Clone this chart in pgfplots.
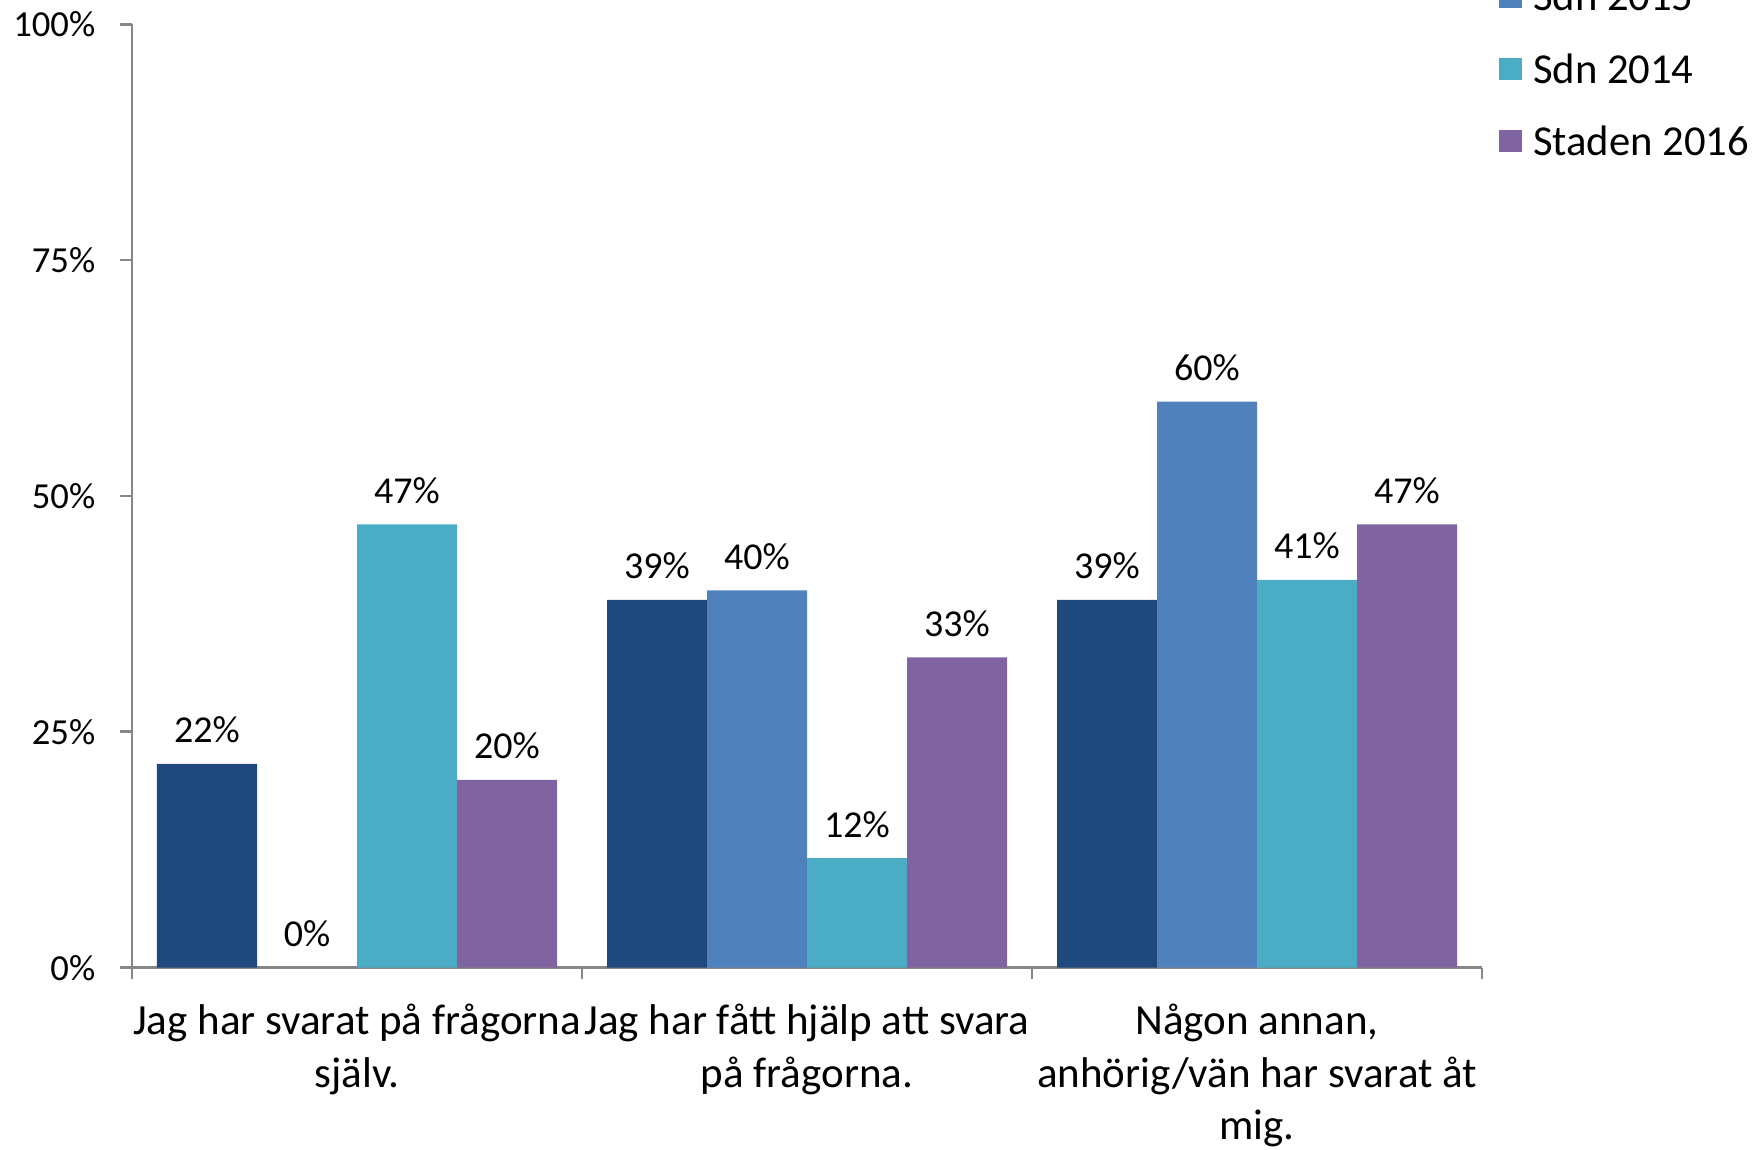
\documentclass[border=0pt]{standalone}
\usepackage{pgfplots}
\pgfplotsset{compat=1.18}
\usepackage{fontspec}
\setmainfont{Carlito}
\definecolor{cNavy}{HTML}{1F497D}
\definecolor{cBlue}{HTML}{4F81BD}
\definecolor{cTeal}{HTML}{4BACC6}
\definecolor{cPurple}{HTML}{8064A2}
\definecolor{axgray}{HTML}{868686}
\begin{document}
\begin{tikzpicture}
\begin{axis}[
  name=ax,
  scale only axis,
  width=405pt, height=283pt,
  xmin=-0.5, xmax=2.5, ymin=0, ymax=100,
  ybar=0pt, bar width=30pt,
  axis x line*=bottom, axis y line*=left,
  axis line style={axgray, line width=0.8pt},
  xtick={-0.5,0.5,1.5,2.5},
  x tick label as interval,
  xticklabels={{Jag har svarat på frågorna\\själv.},{Jag har fått hjälp att svara\\på frågorna.},{Någon annan,\\anhörig/vän har svarat åt\\mig.}},
  xticklabel style={align=center, font=\fontsize{12.9}{15.7}\selectfont, yshift=-4pt},
  x tick style={axgray, line width=0.8pt},
  ytick={0,25,50,75,100},
  yticklabels={0\%,25\%,50\%,75\%,100\%},
  yticklabel style={font=\fontsize{11}{13}\selectfont, xshift=-4pt},
  y tick style={axgray, line width=0.8pt},
  tick align=outside,
  major tick length=3.5pt,
  /pgf/number format/assume math mode=true,
  nodes near coords={\pgfmathprintnumber[fixed,precision=0]{\pgfplotspointmeta}\%},
  every node near coord/.append style={font=\fontsize{11.4}{13}\selectfont, yshift=2.7pt, black},
  legend style={draw=none, fill=none, at={(rel axis cs:1,1)}, anchor=south west,
    xshift=5pt, yshift=-39.6pt, font=\fontsize{12.8}{14}\selectfont,
    inner sep=0pt, row sep=12.7pt,
    nodes={inner sep=0pt, text height=9pt, text depth=0pt}},
  legend cell align=left,
  legend image code/.code={\fill[#1] (0pt,-3.55pt) rectangle (6.7pt,3.15pt);},
  /tikz/every odd column/.append style={column sep=3.4pt},
  clip=false,
]
\addplot[fill=cNavy, draw=none] coordinates {(0,21.6) (1,39) (2,39)};
\addplot[fill=cBlue, draw=none] coordinates {(0,0) (1,40) (2,60)};
\addplot[fill=cTeal, draw=none] coordinates {(0,47) (1,11.6) (2,41.1)};
\addplot[fill=cPurple, draw=none] coordinates {(0,19.9) (1,32.9) (2,47)};
\legend{Sdn 2016,Sdn 2015,Sdn 2014,Staden 2016}
\coordinate (O) at (rel axis cs:0,0);
\end{axis}
\pgfresetboundingbox
\path[use as bounding box] ([shift={(-39.6pt,-54.4pt)}]O) rectangle ++(526.2pt,344.7pt);
\end{tikzpicture}
\end{document}
